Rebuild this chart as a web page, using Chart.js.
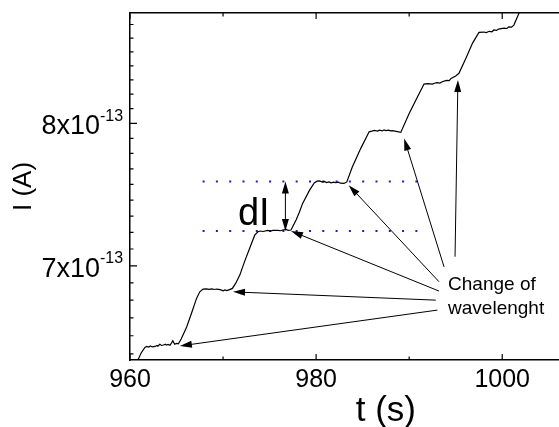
<!DOCTYPE html>
<html>
<head>
<meta charset="utf-8">
<title>Photocurrent steps</title>
<script src="https://cdn.jsdelivr.net/npm/chart.js@4.4.0/dist/chart.umd.min.js"></script>
<style>
  html, body { margin: 0; padding: 0; background: #fff; overflow: hidden; }
</style>
</head>
<body>
<canvas id="currentChart" width="650" height="427"></canvas>
<script>
var FONT = "'Liberation Sans', Arial, Helvetica, sans-serif";

// measured trace: time (s) and current (units of 1e-13 A)
var timeSec = [
  960.7, 961.2, 961.6, 961.8, 962.0, 962.2, 962.4, 962.7, 962.9, 963.0,
  963.2, 963.4, 963.6, 963.8, 963.9, 964.1, 964.3, 964.5, 964.6, 964.8,
  965.0, 965.2, 965.5, 966.1, 966.6, 967.15, 967.5, 967.85, 968.2, 968.5,
  968.8, 969.1, 969.3, 969.7, 970.0, 970.2, 970.4, 970.7, 971.0, 971.35,
  971.8, 972.3, 972.85, 973.4, 973.75, 974.0, 974.3, 974.8, 975.1, 975.35,
  975.9, 976.2, 976.4, 976.8, 977.0, 977.3, 977.85, 978.2, 978.55, 979.3,
  979.8, 980.1, 980.35, 980.7, 980.9, 981.1, 981.4, 981.6, 981.9, 982.1,
  982.4, 982.6, 983.0, 983.3, 983.9, 984.8, 985.7, 986.0, 986.25, 986.6,
  986.8, 987.1, 987.3, 987.5, 987.8, 988.0, 988.2, 988.6, 989.1, 990.0,
  990.9, 991.6, 992.0, 992.5, 992.8, 993.0, 993.3, 993.55, 994.0, 994.3,
  994.5, 995.0, 995.35, 996.1, 996.8, 997.5, 998.0, 998.3, 998.6, 998.9,
  999.1, 999.4, 999.6, 1000.2, 1000.5, 1000.7, 1001.0, 1001.25, 1001.8, 1002.3
];
var currentE13 = [
  6.390, 6.450, 6.484, 6.490, 6.486, 6.493, 6.487, 6.490, 6.496, 6.492,
  6.503, 6.496, 6.499, 6.504, 6.498, 6.502, 6.497, 6.515, 6.525, 6.503,
  6.508, 6.506, 6.535, 6.611, 6.694, 6.789, 6.831, 6.849, 6.850, 6.847,
  6.850, 6.846, 6.849, 6.845, 6.838, 6.843, 6.839, 6.845, 6.853, 6.885,
  6.939, 7.026, 7.115, 7.204, 7.227, 7.232, 7.229, 7.236, 7.232, 7.236,
  7.237, 7.234, 7.239, 7.243, 7.236, 7.239, 7.307, 7.360, 7.422, 7.515,
  7.566, 7.578, 7.580, 7.572, 7.577, 7.568, 7.573, 7.566, 7.571, 7.567,
  7.572, 7.564, 7.562, 7.573, 7.681, 7.815, 7.937, 7.942, 7.948, 7.943,
  7.950, 7.944, 7.951, 7.946, 7.950, 7.944, 7.946, 7.940, 7.933, 8.075,
  8.202, 8.301, 8.304, 8.300, 8.309, 8.312, 8.309, 8.319, 8.330, 8.328,
  8.345, 8.364, 8.385, 8.504, 8.624, 8.713, 8.716, 8.712, 8.722, 8.718,
  8.733, 8.729, 8.740, 8.748, 8.745, 8.759, 8.756, 8.773, 8.870, 8.960
];

// axes
var xRange = [960, 1015];
var xTicks = [960, 970, 980, 990, 1000, 1010];
var xLabels = [960, 980, 1000];
var yRangeE13 = [6.408, 8.873];
var yMajorE13 = [6, 7, 8, 9];
var yMinorPerMajor = 8;

// dI marker: the two plateau levels and the span of the dotted guides
var dILevelsE13 = [7.233, 7.575];
var dIGuideSpan = [967.8, 991.9];
var dIArrowTime = 976.7;
var dILabelAt = [971.6, 7.270];

// "Change of wavelenght" arrows: tail near the note, tip at each step
var arrowTails = [[994.93, 7.060], [993.75, 6.993], [993.21, 6.896], [993.21, 6.836], [992.86, 6.778], [993.03, 6.715]];
var arrowTips  = [[995.24, 8.333], [989.46, 7.888], [983.50, 7.550], [977.30, 7.232], [971.07, 6.831], [965.36, 6.493]];
var noteLines = ['Change of', 'wavelenght'];
var noteAt = [994.18, 6.842];

var E13 = 1e-13;
var yMin = yRangeE13[0] * E13, yMax = yRangeE13[1] * E13;

// Origin-style log axis: 8 minor ticks between neighbouring majors
var yTicks = [];
yMajorE13.slice(0, -1).forEach(function (lo, i) {
  var hi = yMajorE13[i + 1];
  for (var k = 0; k <= yMinorPerMajor; k++) {
    var val = lo + k * (hi - lo) / (yMinorPerMajor + 1);
    if (val >= yRangeE13[0] && val <= yRangeE13[1]) yTicks.push(val * E13);
  }
});

var trace = timeSec.map(function (t, i) { return { x: t, y: currentE13[i] * E13 }; });

function guide(level) {
  return {
    data: [{ x: dIGuideSpan[0], y: level * E13 }, { x: dIGuideSpan[1], y: level * E13 }],
    borderColor: '#2020b8',
    borderWidth: 2,
    borderDash: [2, 11.3],
    pointRadius: 0,
    showLine: true
  };
}

// inward tick marks: a 'line' point centred on the axis, the outer half
// is cut away by the chart area clip
function tickMarks(points, radii, rotation) {
  return {
    data: points,
    showLine: false,
    pointStyle: 'line',
    pointRadius: radii,
    pointRotation: rotation,
    pointBorderColor: '#000',
    pointBorderWidth: 1.2,
    borderColor: '#000',
    clip: 0
  };
}

var xTickPts = [], xTickLen = [];
xTicks.forEach(function (tv) {
  var len = xLabels.indexOf(tv) >= 0 ? 6 : 3.5;
  xTickPts.push({ x: tv, y: yMin }, { x: tv, y: yMax });
  xTickLen.push(len, len);
});
var yTickPts = [], yTickLen = [];
yTicks.forEach(function (tv) {
  var len = Math.abs(tv / E13 - Math.round(tv / E13)) < 1e-6 ? 7 : 3.5;
  yTickPts.push({ x: xRange[0], y: tv }, { x: xRange[1], y: tv });
  yTickLen.push(len, len);
});

function arrowHead(c, x0, y0, x1, y1) {
  var ang = Math.atan2(y1 - y0, x1 - x0), len = 12, w = 3.5;
  var bx = x1 - len * Math.cos(ang), by = y1 - len * Math.sin(ang);
  c.beginPath();
  c.moveTo(x1, y1);
  c.lineTo(bx + w * Math.sin(ang), by - w * Math.cos(ang));
  c.lineTo(bx - w * Math.sin(ang), by + w * Math.cos(ang));
  c.closePath();
  c.fill();
}

// exponent labels and the annotations
var decorations = {
  id: 'stepNotes',
  afterDraw: function (chart) {
    var c = chart.ctx;
    var xs = chart.scales.x, ys = chart.scales.y;
    c.save();
    c.setLineDash([]);
    c.strokeStyle = '#000';
    c.fillStyle = '#000';

    // y labels written as Nx10^-13
    c.textBaseline = 'alphabetic';
    yMajorE13.forEach(function (mant) {
      if (mant < yRangeE13[0] || mant > yRangeE13[1]) return;
      var py = ys.getPixelForValue(mant * E13);
      c.textAlign = 'right';
      c.font = '27px ' + FONT;
      c.fillText(mant + 'x10', 100, py + 11);
      c.textAlign = 'left';
      c.font = '16px ' + FONT;
      c.fillText('-13', 100, py - 2.5);
    });

    // dI double arrow
    var ax = xs.getPixelForValue(dIArrowTime);
    var yLo = ys.getPixelForValue(dILevelsE13[0] * E13);
    var yHi = ys.getPixelForValue(dILevelsE13[1] * E13);
    c.lineWidth = 1;
    c.beginPath(); c.moveTo(ax, yLo - 8); c.lineTo(ax, yHi + 8); c.stroke();
    arrowHead(c, ax, yLo, ax, yHi);
    arrowHead(c, ax, yHi, ax, yLo);
    c.font = '38px ' + FONT;
    c.textAlign = 'left';
    c.fillText('dI', xs.getPixelForValue(dILabelAt[0]), ys.getPixelForValue(dILabelAt[1] * E13));

    // arrows to each step
    arrowTails.forEach(function (tail, i) {
      var x0 = xs.getPixelForValue(tail[0]), y0 = ys.getPixelForValue(tail[1] * E13);
      var x1 = xs.getPixelForValue(arrowTips[i][0]), y1 = ys.getPixelForValue(arrowTips[i][1] * E13);
      var d = Math.hypot(x1 - x0, y1 - y0);
      c.beginPath();
      c.moveTo(x0, y0);
      c.lineTo(x1 - (x1 - x0) * 8 / d, y1 - (y1 - y0) * 8 / d);
      c.stroke();
      arrowHead(c, x0, y0, x1, y1);
    });

    c.font = '19px ' + FONT;
    var nx = xs.getPixelForValue(noteAt[0]), ny = ys.getPixelForValue(noteAt[1] * E13);
    noteLines.forEach(function (line, i) { c.fillText(line, nx, ny + i * 24); });
    c.restore();
  }
};

new Chart(document.getElementById('currentChart').getContext('2d'), {
  type: 'scatter',
  data: {
    datasets: [
      {
        data: trace,
        borderColor: '#000',
        borderWidth: 1.2,
        pointRadius: 0,
        showLine: true,
        tension: 0
      },
      guide(dILevelsE13[0]),
      guide(dILevelsE13[1]),
      tickMarks(xTickPts, xTickLen, 90),
      tickMarks(yTickPts, yTickLen, 0)
    ]
  },
  options: {
    responsive: false,
    animation: false,
    events: [],
    layout: { padding: { top: 13, right: 7, left: 0, bottom: 0 } },
    plugins: { legend: { display: false }, tooltip: { enabled: false } },
    scales: {
      x: {
        type: 'linear',
        position: 'bottom',
        min: xRange[0],
        max: xRange[1],
        bounds: 'data',
        afterBuildTicks: function (s) { s.ticks = xTicks.map(function (tv) { return { value: tv }; }); },
        afterFit: function (s) { s.height = 67; },
        grid: { display: false, drawTicks: false },
        border: { display: true, color: '#000', width: 1.5 },
        ticks: {
          autoSkip: false,
          maxRotation: 0,
          padding: 5,
          color: '#000',
          font: { family: FONT, size: 25 },
          callback: function (tv) { return xLabels.indexOf(tv) >= 0 ? String(tv) : ''; }
        },
        title: {
          display: true,
          text: 't (s)',
          color: '#000',
          font: { family: FONT, size: 35, lineHeight: 0.9 },
          padding: { top: 0, bottom: 0 }
        }
      },
      // unlabelled top axis, only its line closes the box
      xTop: {
        type: 'linear',
        position: 'top',
        min: xRange[0],
        max: xRange[1],
        afterFit: function (s) { s.height = 0; },
        grid: { display: false, drawTicks: false },
        border: { display: true, color: '#000', width: 1.5 },
        ticks: { display: false }
      },
      y: {
        type: 'logarithmic',
        min: yMin,
        max: yMax,
        bounds: 'data',
        afterBuildTicks: function (s) { s.ticks = yTicks.map(function (tv) { return { value: tv }; }); },
        afterFit: function (s) { s.width = 130; },
        grid: { display: false, drawTicks: false },
        border: { display: true, color: '#000', width: 1.5 },
        ticks: { display: false },
        title: {
          display: true,
          text: 'I (A)',
          color: '#000',
          font: { family: FONT, size: 26, lineHeight: 1.2 },
          padding: { top: 8, bottom: 0 }
        }
      }
    }
  },
  plugins: [decorations]
});
</script>
</body>
</html>
